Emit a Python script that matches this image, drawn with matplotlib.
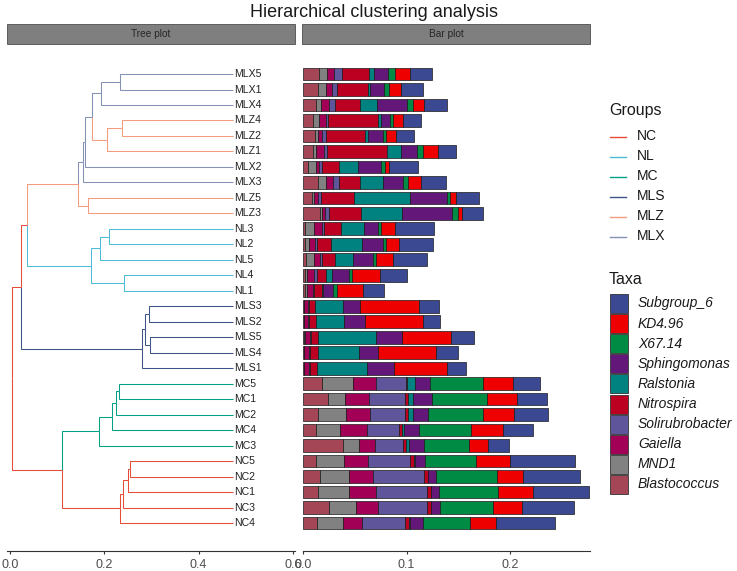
import matplotlib
matplotlib.use("Agg")
import matplotlib.pyplot as plt
from matplotlib.patches import Rectangle
from matplotlib.lines import Line2D
import numpy as np

plt.rcParams['font.family'] = ['Liberation Sans', 'DejaVu Sans']

# ---- data -------------------------------------------------------------
samples = ["MLX5", "MLX1", "MLX4", "MLZ4", "MLZ2", "MLZ1", "MLX2", "MLX3", "MLZ5", "MLZ3",
           "NL3", "NL2", "NL5", "NL4", "NL1", "MLS3", "MLS2", "MLS5", "MLS4", "MLS1",
           "MC5", "MC1", "MC2", "MC4", "MC3", "NC5", "NC2", "NC1", "NC3", "NC4"]

groups = ["NC", "NL", "MC", "MLS", "MLZ", "MLX"]
group_colors = ["#E64B35", "#4DBBD5", "#00A087", "#3C5488", "#F39B7F", "#8491B4"]

# dendrogram merges: (node, child_a, child_b, depth, branch group of node)
leaf_depth = 0.4736
tree_merges = [
    ("mlx51", "MLX5", "MLX1", 0.233, "MLX"),
    ("mlx541", "mlx51", "MLX4", 0.193, "MLX"),
    ("mlz42", "MLZ4", "MLZ2", 0.238, "MLZ"),
    ("mlz421", "mlz42", "MLZ1", 0.205, "MLZ"),
    ("n_x", "mlx541", "mlz421", 0.175, "MLX"),
    ("n_a", "n_x", "MLX2", 0.159, "MLX"),
    ("n_b", "n_a", "MLX3", 0.155, "MLX"),
    ("mlz53", "MLZ5", "MLZ3", 0.165, "MLZ"),
    ("n_c", "n_b", "mlz53", 0.144, "MLZ"),
    ("nl32", "NL3", "NL2", 0.210, "NL"),
    ("nl325", "nl32", "NL5", 0.191, "NL"),
    ("nl41", "NL4", "NL1", 0.242, "NL"),
    ("nl", "nl325", "nl41", 0.171, "NL"),
    ("n_d", "n_c", "nl", 0.037, "NC"),
    ("mls32", "MLS3", "MLS2", 0.295, "MLS"),
    ("mls54", "MLS5", "MLS4", 0.298, "MLS"),
    ("mls3254", "mls32", "mls54", 0.286, "MLS"),
    ("mls", "mls3254", "MLS1", 0.279, "MLS"),
    ("n_e", "n_d", "mls", 0.023, "NC"),
    ("mc51", "MC5", "MC1", 0.231, "MC"),
    ("mc512", "mc51", "MC2", 0.224, "MC"),
    ("mc5124", "mc512", "MC4", 0.216, "MC"),
    ("mc", "mc5124", "MC3", 0.189, "MC"),
    ("nc52", "NC5", "NC2", 0.254, "NC"),
    ("nc521", "nc52", "NC1", 0.250, "NC"),
    ("nc5213", "nc521", "NC3", 0.240, "NC"),
    ("nc", "nc5213", "NC4", 0.233, "NC"),
    ("mcnc", "mc", "nc", 0.111, "NC"),
    ("root", "n_e", "mcnc", 0.005, "NC"),
]

# relative abundance, stacked left -> right, in sample order
taxa = ["Blastococcus", "MND1", "Gaiella", "Solirubrobacter", "Nitrospira",
        "Ralstonia", "Sphingomonas", "X67.14", "KD4.96", "Subgroup_6"]
taxa_colors = ["#A54657", "#808180", "#A20056", "#5F559B", "#BB0021",
               "#008280", "#631879", "#008B45", "#EE0000", "#3B4992"]

blastococcus = [0.0155, 0.0145, 0.0119, 0.0090, 0.0113, 0.0090, 0.0048, 0.0139, 0.0081, 0.0161,
                0.0016, 0.0013, 0.0023, 0.0013, 0.0013, 0.0006, 0.0006, 0.0010, 0.0006, 0.0006,
                0.0177, 0.0235, 0.0145, 0.0119, 0.0381, 0.0123, 0.0161, 0.0139, 0.0252, 0.0135]
mnd1 = [0.0071, 0.0074, 0.0048, 0.0065, 0.0026, 0.0029, 0.0071, 0.0081, 0.0023, 0.0019,
        0.0090, 0.0045, 0.0081, 0.0026, 0.0026, 0.0003, 0.0003, 0.0003, 0.0003, 0.0003,
        0.0306, 0.0168, 0.0268, 0.0235, 0.0161, 0.0268, 0.0281, 0.0300, 0.0261, 0.0245]
gaiella = [0.0074, 0.0055, 0.0077, 0.0061, 0.0045, 0.0084, 0.0035, 0.0071, 0.0042, 0.0032,
           0.0074, 0.0058, 0.0058, 0.0065, 0.0052, 0.0032, 0.0039, 0.0052, 0.0048, 0.0048,
           0.0219, 0.0235, 0.0235, 0.0258, 0.0152, 0.0232, 0.0229, 0.0261, 0.0206, 0.0184]
solirubrobacter = [0.0071, 0.0048, 0.0058, 0.0026, 0.0035, 0.0026, 0.0029, 0.0052, 0.0026, 0.0039,
                   0.0016, 0.0016, 0.0016, 0.0026, 0.0013, 0.0010, 0.0010, 0.0010, 0.0010, 0.0010,
                   0.0290, 0.0348, 0.0339, 0.0313, 0.0274, 0.0413, 0.0500, 0.0500, 0.0481, 0.0419]
nitrospira = [0.0268, 0.0306, 0.0248, 0.0484, 0.0377, 0.0581, 0.0165, 0.0203, 0.0316, 0.0306,
              0.0168, 0.0135, 0.0129, 0.0087, 0.0074, 0.0065, 0.0065, 0.0071, 0.0074, 0.0065,
              0.0016, 0.0032, 0.0023, 0.0026, 0.0026, 0.0032, 0.0032, 0.0032, 0.0032, 0.0042]
ralstonia = [0.0045, 0.0016, 0.0168, 0.0029, 0.0032, 0.0135, 0.0177, 0.0226, 0.0548, 0.0397,
             0.0226, 0.0300, 0.0177, 0.0058, 0.0016, 0.0268, 0.0274, 0.0555, 0.0394, 0.0484,
             0.0071, 0.0048, 0.0048, 0.0023, 0.0026, 0.0013, 0.0003, 0.0003, 0.0003, 0.0003]
sphingomonas = [0.0139, 0.0135, 0.0290, 0.0081, 0.0145, 0.0155, 0.0226, 0.0194, 0.0351, 0.0481,
                0.0132, 0.0203, 0.0194, 0.0168, 0.0097, 0.0161, 0.0197, 0.0252, 0.0184, 0.0258,
                0.0145, 0.0184, 0.0145, 0.0145, 0.0145, 0.0100, 0.0074, 0.0081, 0.0087, 0.0129]
x67_14 = [0.0065, 0.0048, 0.0058, 0.0032, 0.0029, 0.0058, 0.0039, 0.0048, 0.0032, 0.0058,
          0.0029, 0.0029, 0.0026, 0.0026, 0.0039, 0.0003, 0.0003, 0.0003, 0.0003, 0.0003,
          0.0516, 0.0532, 0.0532, 0.0500, 0.0442, 0.0490, 0.0594, 0.0565, 0.0510, 0.0455]
kd4_96 = [0.0145, 0.0119, 0.0103, 0.0100, 0.0097, 0.0145, 0.0042, 0.0123, 0.0058, 0.0039,
          0.0139, 0.0123, 0.0168, 0.0274, 0.0252, 0.0574, 0.0565, 0.0474, 0.0558, 0.0510,
          0.0290, 0.0290, 0.0300, 0.0313, 0.0184, 0.0332, 0.0252, 0.0339, 0.0281, 0.0255]
subgroup_6 = [0.0216, 0.0213, 0.0226, 0.0174, 0.0177, 0.0174, 0.0274, 0.0248, 0.0225, 0.0210,
              0.0371, 0.0332, 0.0323, 0.0258, 0.0203, 0.0187, 0.0161, 0.0226, 0.0216, 0.0190,
              0.0265, 0.0290, 0.0329, 0.0294, 0.0203, 0.0629, 0.0548, 0.0548, 0.0506, 0.0574]

abundance = [blastococcus, mnd1, gaiella, solirubrobacter, nitrospira,
             ralstonia, sphingomonas, x67_14, kd4_96, subgroup_6]

# ---- figure -----------------------------------------------------------
W, H = 737, 571
fig = plt.figure(figsize=(W / 100, H / 100), dpi=100)

# overlay in pixel coords for title, strips and legends
over = fig.add_axes([0, 0, 1, 1])
over.set_xlim(0, W)
over.set_ylim(H, 0)
over.axis("off")

panel_top, panel_bot = 44.0, 550.7
tree_l, tree_r = 7.3, 295.0
bar_l, bar_r = 303.3, 590.0


def px_axes(l, r):
    return fig.add_axes([l / W, (H - panel_bot) / H, (r - l) / W, (panel_bot - panel_top) / H])


ax_t = px_axes(tree_l, tree_r)
ax_b = px_axes(bar_l, bar_r)

# ---- tree -------------------------------------------------------------
ypos = {s: i for i, s in enumerate(samples)}
xpos = {s: leaf_depth for s in samples}
col = {s: group_colors[groups.index(s.rstrip("0123456789"))] for s in samples}
for node, a, b, d, g in tree_merges:
    ypos[node] = (ypos[a] + ypos[b]) / 2
    xpos[node] = d
    col[node] = group_colors[groups.index(g)]
    for ch in (a, b):
        ax_t.plot([d, d, xpos[ch]], [ypos[node], ypos[ch], ypos[ch]],
                  color=col[ch], lw=0.75, solid_joinstyle="miter", solid_capstyle="butt")

for s in samples:
    ax_t.text(leaf_depth + 0.002, ypos[s], s, fontsize=7.6, color="#222222",
              ha="left", va="center")

ylim = (len(samples) - 1 + 1.79, -1.94)
ax_t.set_xlim(-0.0057, 0.6045)
ax_t.set_ylim(*ylim)
ax_t.set_xticks([0.0, 0.2, 0.4, 0.6])
ax_t.set_xticklabels(["0.0", "0.2", "0.4", "0.6"])

# ---- bars -------------------------------------------------------------
yy = np.arange(len(samples))
left = np.zeros(len(samples))
for vals, c in zip(abundance, taxa_colors):
    ax_b.barh(yy, vals, left=left, height=0.82, color=c,
              edgecolor="#1a1a1a", linewidth=0.5)
    left += np.array(vals)
ax_b.set_xlim(0, 0.2775)
ax_b.set_ylim(*ylim)
ax_b.set_xticks([0.0, 0.1, 0.2])
ax_b.set_xticklabels(["0.0", "0.1", "0.2"])

for ax in (ax_t, ax_b):
    ax.set_facecolor("none")
    for sp in ("top", "right", "left"):
        ax.spines[sp].set_visible(False)
    ax.spines["bottom"].set_color("#333333")
    ax.spines["bottom"].set_linewidth(0.8)
    ax.set_yticks([])
    ax.tick_params(axis="x", length=2.5, width=0.8, color="#333333",
                   labelsize=9, labelcolor="#4D4D4D", pad=3.5)

# ---- title & strips ---------------------------------------------------
over.text(374, 17, "Hierarchical clustering analysis", fontsize=13,
          ha="center", va="baseline", color="#1a1a1a")
for (l, r), lab in zip([(tree_l, tree_r), (bar_l - 1.3, bar_r)], ["Tree plot", "Bar plot"]):
    over.add_patch(Rectangle((l, 24), r - l, 20, facecolor="#7F7F7F",
                             edgecolor="#4D4D4D", lw=0.6))
    over.text((l + r) / 2, 34, lab, fontsize=7.3, color="#262626",
              ha="center", va="center")

# ---- legends ----------------------------------------------------------
over.text(609, 110, "Groups", fontsize=11.5, ha="left", va="center", color="#1a1a1a")
for i, (g, c) in enumerate(zip(groups, group_colors)):
    y = 136.5 + i * 20
    over.add_line(Line2D([610, 626], [y, y], color=c, lw=1.0))
    over.text(637, y, g, fontsize=10, ha="left", va="center", color="#1a1a1a")

over.text(609, 280, "Taxa", fontsize=11.5, ha="left", va="center", color="#1a1a1a")
for i, (t, c) in enumerate(zip(taxa[::-1], taxa_colors[::-1])):
    y = 303.5 + i * 20.1
    over.add_patch(Rectangle((610, y - 9.5), 18, 19, facecolor=c,
                             edgecolor="#333333", lw=0.6))
    over.text(638, y, t, fontsize=10, style="italic", ha="left", va="center",
              color="#1a1a1a")

fig.savefig("out.png", dpi=100)
